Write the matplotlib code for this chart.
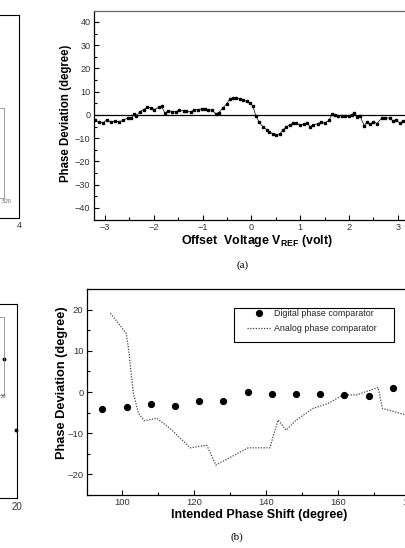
import matplotlib
matplotlib.use("Agg")
import matplotlib.pyplot as plt
from matplotlib.patches import Rectangle
from matplotlib.ticker import MultipleLocator

plt.rcParams['font.family'] = ['Liberation Sans', 'DejaVu Sans']
plt.rcParams['mathtext.fontset'] = 'custom'
plt.rcParams['mathtext.rm'] = 'Liberation Sans'
plt.rcParams['mathtext.bf'] = 'Liberation Sans:bold'

# ---------------- data: panel (a) ----------------
offset_v = [-3.20, -3.13, -3.04, -2.96, -2.87, -2.79, -2.71, -2.62, -2.53, -2.46,
            -2.41, -2.36, -2.28, -2.21, -2.13, -2.05, -1.99, -1.90, -1.84, -1.77,
            -1.70, -1.62, -1.55, -1.48, -1.39, -1.33, -1.24, -1.18, -1.10, -1.02,
            -0.95, -0.88, -0.81, -0.73, -0.67, -0.59, -0.51, -0.44, -0.37, -0.31,
            -0.24, -0.17, -0.10, -0.03, 0.03, 0.09, 0.16, 0.24, 0.31, 0.37,
            0.44, 0.51, 0.58, 0.65, 0.71, 0.78, 0.85, 0.92, 0.99, 1.07,
            1.14, 1.20, 1.27, 1.36, 1.43, 1.50, 1.59, 1.65, 1.71, 1.78,
            1.85, 1.92, 1.99, 2.05, 2.10, 2.16, 2.22, 2.31, 2.36, 2.43,
            2.50, 2.57, 2.67, 2.73, 2.84, 2.90, 2.97, 3.04, 3.11, 3.18, 3.25]
phase_dev_a = [-2.4, -2.9, -3.5, -2.0, -3.2, -2.6, -2.9, -2.3, -1.2, -1.4,
               0.4, -0.3, 1.4, 2.3, 3.3, 2.9, 2.3, 3.2, 3.7, 0.7,
               1.9, 1.4, 1.4, 2.0, 1.9, 1.7, 1.2, 2.3, 2.3, 2.6,
               2.6, 2.3, 2.0, 0.6, 0.9, 2.9, 4.7, 6.9, 7.3, 7.2,
               6.9, 6.5, 5.8, 5.2, 3.7, -0.3, -3.2, -5.2, -6.3, -7.2,
               -8.2, -8.5, -8.2, -6.3, -5.2, -4.3, -3.6, -3.5, -4.3, -4.0,
               -3.5, -5.0, -4.3, -3.7, -3.2, -3.5, -2.3, 0.3, -0.1, -0.3,
               -0.3, -0.4, -0.6, 0.0, 0.9, -0.7, -0.3, -4.7, -3.2, -4.0,
               -2.9, -3.7, -1.4, -1.2, -1.4, -2.6, -2.3, -3.5, -2.6, -2.0, -2.5]
xticks_a = [-3, -2, -1, 0, 1, 2, 3]
yticks_a = [-40, -30, -20, -10, 0, 10, 20, 30, 40]

# ---------------- data: panel (b) ----------------
digital_x = [94.5, 101.3, 108.1, 114.8, 121.5, 128.2, 134.9, 141.7, 148.4, 155.0, 161.8, 168.6, 175.2]
digital_y = [-4.1, -3.7, -3.0, -3.3, -2.3, -2.1, 0.0, -0.4, -0.5, -0.4, -0.7, -1.0, 0.9]
analog_x = [96.8, 101.2, 101.9, 102.5, 103.2, 104.6, 106.2, 109.7, 113.4, 119.0,
            122.6, 123.6, 126.1, 135.1, 141.1, 143.4, 145.6, 148.5, 153.1, 157.3,
            161.5, 165.2, 171.2, 172.4, 178.1, 183.0]
analog_y = [19.2, 14.3, 10.2, 5.0, -0.3, -5.2, -7.0, -6.4, -8.9, -13.6,
            -13.1, -13.0, -17.8, -13.6, -13.6, -6.8, -9.3, -6.8, -4.0, -2.8,
            -0.7, -0.7, 1.1, -4.0, -5.4, -5.8]
xticks_b = [100, 120, 140, 160, 180]
yticks_b = [-20, -10, 0, 10, 20]

W, H = 405, 548
fig = plt.figure(figsize=(W / 100, H / 100), dpi=100)


def px_axes(left, top, right, bottom):
    return fig.add_axes([left / W, 1 - bottom / H, (right - left) / W, (bottom - top) / H])


tick_color = '#333333'


def style_axes(ax, xmaj, xmin, ymaj, ymin, size):
    ax.xaxis.set_major_locator(MultipleLocator(xmaj))
    ax.xaxis.set_minor_locator(MultipleLocator(xmin))
    ax.yaxis.set_major_locator(MultipleLocator(ymaj))
    ax.yaxis.set_minor_locator(MultipleLocator(ymin))
    ax.tick_params(which='both', direction='in', top=False, right=False,
                   labelsize=size, labelcolor=tick_color, width=0.8)
    ax.tick_params(which='major', length=3.5)
    ax.tick_params(which='minor', length=2)
    ax.tick_params(axis='x', pad=2.5)
    ax.tick_params(axis='y', pad=2.5)
    for s in ax.spines.values():
        s.set_linewidth(0.9)


# ---------------- panel (a) ----------------
axa = px_axes(94, 11, 415, 220)
axa.plot(offset_v, phase_dev_a, '-', color='black', lw=0.5,
         marker='s', ms=2.1, mec='black', mfc='black')
axa.axhline(0, color='black', lw=0.9)
axa.set_xlim(-3.224, 3.35)
axa.set_ylim(-45.2, 44.7)
style_axes(axa, 1, 0.5, 10, 5, 6.6)
axa.set_xticks(xticks_a)
axa.set_yticks(yticks_a)
axa.spines['top'].set_color('#666666')
axa.set_ylabel('Phase Deviation (degree)', fontsize=8.3, fontweight='bold')
axa.yaxis.set_label_coords(-0.067, 0.51)
axa.set_xlabel(r'Offset  Voltage V$_{\mathbf{REF}}$ (volt)', fontsize=8.9, fontweight='bold', va='center')
axa.xaxis.set_label_coords(0.508, -0.10)

# ---------------- panel (b) ----------------
axb = px_axes(87, 289, 417, 495)
axb.plot(analog_x, analog_y, linestyle=(0, (1, 1.2)), color='#444444', lw=0.9,
         label='Analog phase comparator')
axb.plot(digital_x, digital_y, 'o', color='black', ms=4.2,
         label='Digital phase comparator')
axb.set_xlim(90.3, 182)
axb.set_ylim(-25.1, 25.1)
style_axes(axb, 20, 10, 10, 5, 6.8)
axb.set_xticks(xticks_b)
axb.set_yticks(yticks_b)
axb.set_ylabel('Phase Deviation (degree)', fontsize=9.2, fontweight='bold')
axb.yaxis.set_label_coords(-0.058, 0.544)
axb.set_xlabel('Intended Phase Shift (degree)', fontsize=9, fontweight='bold', va='center')
axb.xaxis.set_label_coords(0.521, -0.097)

handles, labels = axb.get_legend_handles_labels()
leg = axb.legend(handles[::-1], labels[::-1], loc='upper left',
                 bbox_to_anchor=((247 - 87) / 330, (495 - 309) / 206),
                 frameon=False, fontsize=6.4, handlelength=2.7, handletextpad=0.3,
                 labelspacing=0.7, borderpad=0, borderaxespad=0)
for t in leg.get_texts():
    t.set_color('#222222')
axb.add_patch(Rectangle(((234 - 87) / 330, (495 - 342) / 206),
                        (394 - 234) / 330, (342 - 308) / 206,
                        transform=axb.transAxes, fill=False, ec='black', lw=0.8))

# ---------------- partial neighbouring panels on the left ----------------
axl1 = px_axes(-120, 15, 19, 218)
axl1.set_xlim(0, 4)
axl1.set_ylim(0, 1)
axl1.set_xticks([4])
axl1.set_yticks([])
axl1.tick_params(direction='in', length=0, labelsize=6.5, labelcolor=tick_color, pad=2)
for s in axl1.spines.values():
    s.set_linewidth(0.8)
axi1 = px_axes(-100, 108, 4, 198)
axi1.set_xticks([])
axi1.set_yticks([])
for s in axi1.spines.values():
    s.set_linewidth(0.5)
    s.set_color('#777777')
fig.text(2 / W, 1 - 201 / H, '.520', fontsize=3.5, color='#555555', va='center')

axl2 = px_axes(-120, 304, 17, 498)
axl2.set_xlim(0, 20)
axl2.set_ylim(0, 1)
axl2.set_xticks([20])
axl2.set_yticks([])
axl2.tick_params(direction='in', length=0, labelsize=7, labelcolor=tick_color, pad=3)
axl2.plot([20 * (16 + 120) / 137], [(498 - 430) / 194], 'o', color='black', ms=1.8, clip_on=False)
for s in axl2.spines.values():
    s.set_linewidth(0.8)
axi2 = px_axes(-100, 317, 4, 395)
axi2.set_xlim(0, 1)
axi2.set_ylim(0, 1)
axi2.set_xticks([])
axi2.set_yticks([])
axi2.plot([1.0], [(395 - 359) / 78], 'o', color='black', ms=1.8, clip_on=False)
for s in axi2.spines.values():
    s.set_linewidth(0.5)
    s.set_color('#777777')
fig.text(1 / W, 1 - 397 / H, '20', fontsize=3.5, color='#555555', va='center')

# ---------------- captions ----------------
fig.text(243 / W, 1 - 265 / H, '(a)', fontsize=8, family='Liberation Serif', ha='center', va='center')
fig.text(237 / W, 1 - 537 / H, '(b)', fontsize=8, family='Liberation Serif', ha='center', va='center')

fig.savefig('out.png', dpi=100)
